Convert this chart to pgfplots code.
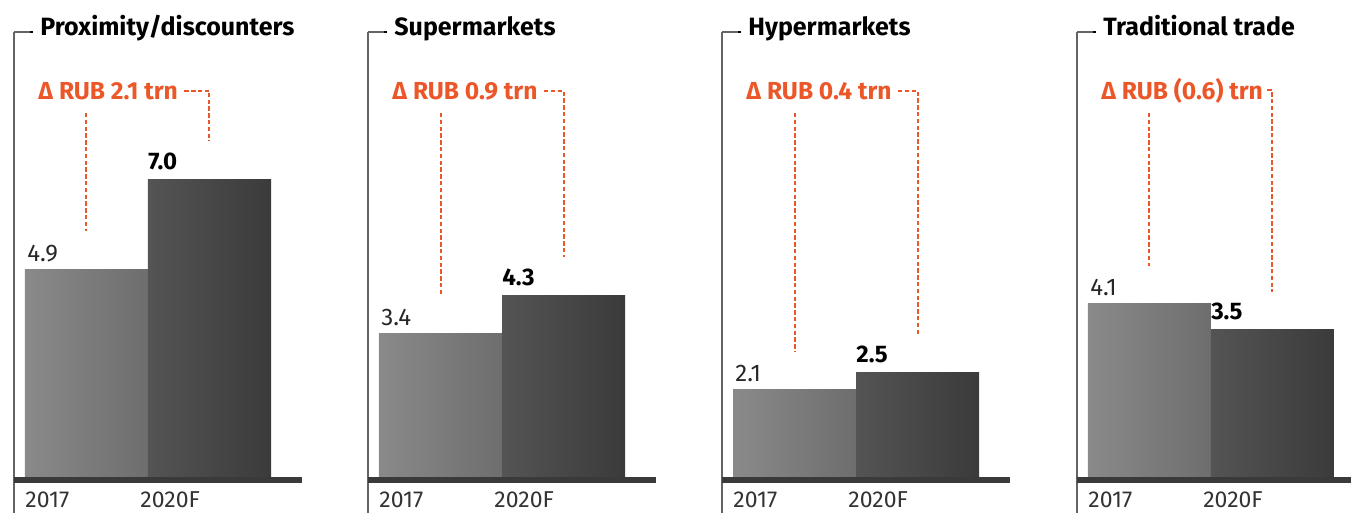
\documentclass[border=0pt]{standalone}
\usepackage{fontspec}
\setmainfont{Fira Sans}
\usepackage{pgfplots}
\pgfplotsset{compat=1.18}

\definecolor{deltaor}{RGB}{235,87,40}
\definecolor{basegray}{RGB}{58,58,58}
\definecolor{framegray}{RGB}{100,100,100}

\tikzset{
  dline/.style={deltaor, line width=1pt, dash pattern=on 2.2pt off 1.2pt},
  ttl/.style={anchor=base west, inner sep=0pt, font=\bfseries\fontsize{12.5}{14}\selectfont},
  dlt/.style={anchor=base west, inner sep=0pt, text=deltaor, font=\bfseries\fontsize{12.3}{14}\selectfont}
}
\pgfplotsset{
  panel/.style={
    scale only axis, width=144pt, height=224pt,
    xmin=-0.5894, xmax=1.752, ymin=0, ymax=10.419,
    axis line style={draw=none}, ytick=\empty,
    xtick={-0.5,0.435}, xticklabels={2017,2020F}, major tick length=0pt,
    xticklabel style={anchor=base west, inner sep=0pt, yshift=-14pt,
      font=\fontsize{11.5}{14}\selectfont, text=black!80},
    clip=false, anchor=south west,
    /pgf/number format/assume math mode=true,
  },
  bar1/.style={ybar, bar width=61.5pt, bar shift=0pt, draw=none,
    left color=black!46, right color=black!57,
    nodes near coords={\pgfmathprintnumber[fixed,fixed zerofill,precision=1]{\pgfplotspointmeta}},
    every node near coord/.append style={anchor=base west, inner sep=0pt,
      xshift=-29.75pt, yshift=4pt, font=\fontsize{12}{14}\selectfont, text=black!85}},
  bar2/.style={ybar, bar width=61.5pt, bar shift=0pt, draw=none,
    left color=black!67, right color=black!77,
    nodes near coords={\pgfmathprintnumber[fixed,fixed zerofill,precision=1]{\pgfplotspointmeta}},
    every node near coord/.append style={anchor=base west, inner sep=0pt,
      xshift=-30.75pt, yshift=5pt, font=\bfseries\fontsize{12}{14}\selectfont, text=black}},
}
% frame: left rule, title tick, base line
\newcommand{\frm}[1]{%
  \draw[framegray, line width=0.7pt] (rel axis cs:0,1) -- (rel axis cs:0,-0.08);
  \draw[framegray, line width=0.7pt] (rel axis cs:0,1) -- ([xshift=9pt]rel axis cs:0,1);
  \fill[black] ([xshift=8pt,yshift=-0.6pt]rel axis cs:0,1) rectangle ([xshift=9.3pt,yshift=0.6pt]rel axis cs:0,1);
  \node[ttl] at ([xshift=13pt,yshift=-2pt]rel axis cs:0,1) {#1};
  \draw[basegray, line width=2.6pt] (rel axis cs:0,0) -- (rel axis cs:1,0);
}

\begin{document}
\begin{tikzpicture}
\useasboundingbox (0,0) rectangle (675.5pt,256.5pt);

\begin{axis}[panel, at={(7pt,16.5pt)}]
  \addplot[bar1] coordinates {(0,4.9)};
  \addplot[bar2] coordinates {(1,7.0)};
  \frm{Proximity/discounters}
  \node[dlt] (t) at (axis cs:-0.394,8.86) {Δ RUB 2.1 trn};
  \draw[dline] (axis cs:0,8.535) -- (axis cs:0,5.78);
  \draw[dline] ([xshift=3pt]t.east) -| (axis cs:1,7.88);
\end{axis}

\begin{axis}[panel, at={(184pt,16.5pt)}]
  \addplot[bar1] coordinates {(0,3.4)};
  \addplot[bar2] coordinates {(1,4.3)};
  \frm{Supermarkets}
  \node[dlt] (t) at (axis cs:-0.394,8.86) {Δ RUB 0.9 trn};
  \draw[dline] (axis cs:0,8.535) -- (axis cs:0,4.28);
  \draw[dline] ([xshift=3pt]t.east) -| (axis cs:1,5.18);
\end{axis}

\begin{axis}[panel, at={(361pt,16.5pt)}]
  \addplot[bar1] coordinates {(0,2.1)};
  \addplot[bar2] coordinates {(1,2.5)};
  \frm{Hypermarkets}
  \node[dlt] (t) at (axis cs:-0.394,8.86) {Δ RUB 0.4 trn};
  \draw[dline] (axis cs:0,8.535) -- (axis cs:0,2.98);
  \draw[dline] ([xshift=3pt]t.east) -| (axis cs:1,3.38);
\end{axis}

\begin{axis}[panel, at={(538.5pt,16.5pt)}, width=137pt, xmax=1.64]
  \addplot[bar1] coordinates {(0,4.1)};
  \addplot[bar2] coordinates {(1,3.5)};
  \frm{Traditional trade}
  \node[dlt] (t) at (axis cs:-0.394,8.86) {Δ RUB (0.6) trn};
  \draw[dline] (axis cs:0,8.535) -- (axis cs:0,4.98);
  \draw[dline] ([xshift=2pt]t.east) -| (axis cs:1,4.38);
\end{axis}
\end{tikzpicture}
\end{document}
